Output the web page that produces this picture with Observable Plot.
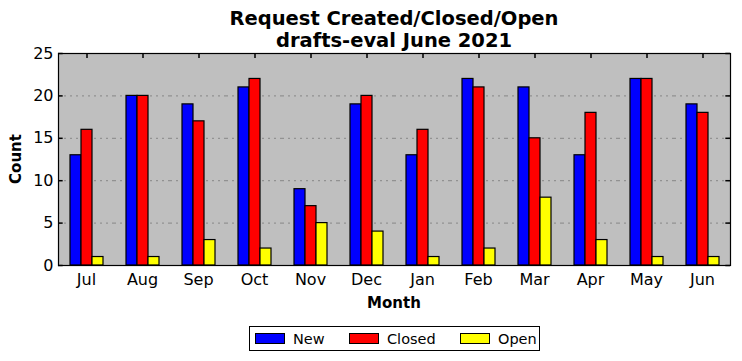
<!DOCTYPE html>
<html><head><meta charset="utf-8">
<script src="https://cdn.jsdelivr.net/npm/d3@7"></script>
<script src="https://cdn.jsdelivr.net/npm/@observablehq/plot@0.6"></script>
<style>
body{margin:0;background:#fff;font-family:"DejaVu Sans",sans-serif}
#wrap{position:relative;width:742px;height:361px;overflow:hidden}
#chart{position:absolute;left:0;top:0}
#title{position:absolute;left:56px;width:676px;top:8px;text-align:center;font-weight:bold;font-size:19.5px;line-height:22px;color:#000}
#ylab{position:absolute;left:16px;top:159px;transform:translate(-50%,-50%) rotate(-90deg);font-weight:bold;font-size:15px}
#xlab{position:absolute;left:394px;top:303px;transform:translate(-50%,-50%);font-weight:bold;font-size:15px}
#legend{position:absolute;left:249px;top:326px;width:289px;height:23px;border:1px solid #000;background:#fff;font-size:14.5px}
.item{position:absolute;top:0;height:23px;display:flex;align-items:center}
.sw{width:28px;height:9px;border:1px solid #000;margin-right:8px}
</style></head><body>
<div id="wrap">
<div id="chart"></div>
<div id="title">Request Created/Closed/Open<br>drafts-eval June 2021</div>
<div id="ylab">Count</div>
<div id="xlab">Month</div>
<div id="legend"></div>
</div>
<script>
const months = ["Jul","Aug","Sep","Oct","Nov","Dec","Jan","Feb","Mar","Apr","May","Jun"];
const series = ["New","Closed","Open"];
const newVals = [13,20,19,21,9,19,13,22,21,13,22,19];
const closedVals = [16,20,17,22,7,20,16,21,15,18,22,18];
const openVals = [1,1,3,2,5,4,1,2,8,3,1,1];
const colors = ["#0000ff","#ff0000","#ffff00"];
const yTicks = [0,5,10,15,20,25];

const valsBySeries = {New: newVals, Closed: closedVals, Open: openVals};
const data = months.flatMap((m, i) => series.map(s => ({month: m, series: s, value: valsBySeries[s][i]})));

const W = 742, H = 361, ML = 56, MR = 10, MT = 53, MB = 96, TICK = 5;
const facetW = (W - ML - MR) / months.length;
const frameH = H - MT - MB;
const midSeries = series[Math.floor(series.length / 2)];

const chart = Plot.plot({
  width: W,
  height: H,
  marginLeft: ML,
  marginRight: MR,
  marginTop: MT,
  marginBottom: MB,
  style: {fontFamily: "DejaVu Sans, sans-serif", fontSize: "16px", color: "#000", background: "transparent"},
  fx: {domain: months, paddingInner: 0, paddingOuter: 0, label: null},
  x: {domain: series, paddingInner: 0, paddingOuter: 1, axis: null},
  y: {domain: [0, 25], label: null},
  color: {domain: series, range: colors},
  marks: [
    Plot.frame({fill: "#bfbfbf", facet: "super"}),
    Plot.gridY(yTicks.slice(1, -1), {stroke: "#666", strokeOpacity: 0.8, strokeDasharray: "2,4", strokeWidth: 0.8}),
    Plot.tickX(months, {fx: d => d, x: () => midSeries, insetTop: frameH - TICK, stroke: "#000", strokeWidth: 1.5}),
    Plot.barY(data, {fx: "month", x: "series", y: "value", fill: "series", stroke: "#000", strokeWidth: 1.2}),
    Plot.tickX(months, {fx: d => d, x: () => midSeries, insetBottom: frameH - TICK, stroke: "#000", strokeWidth: 1.5}),
    Plot.tickY(yTicks, {fx: () => months[0], y: d => d, insetRight: facetW - TICK, stroke: "#000", strokeWidth: 1.5}),
    Plot.tickY(yTicks, {fx: () => months[months.length - 1], y: d => d, insetLeft: facetW - TICK, stroke: "#000", strokeWidth: 1.5}),
    Plot.axisY(yTicks, {anchor: "left", tickSize: 0, tickPadding: 5, fontSize: 16}),
    Plot.axisFx({anchor: "bottom", tickSize: 0, tickPadding: 8, fontSize: 16, label: null}),
    Plot.frame({stroke: "#000", strokeWidth: 1.2, facet: "super"})
  ]
});
document.getElementById("chart").appendChild(chart);

const legend = document.getElementById("legend");
const itemLeft = [5, 99, 210];
series.forEach((s, i) => {
  const it = document.createElement("div");
  it.className = "item";
  it.style.left = itemLeft[i] + "px";
  const sw = document.createElement("div");
  sw.className = "sw";
  sw.style.background = colors[i];
  const t = document.createElement("span");
  t.textContent = s;
  it.appendChild(sw);
  it.appendChild(t);
  legend.appendChild(it);
});
</script>
</body></html>
